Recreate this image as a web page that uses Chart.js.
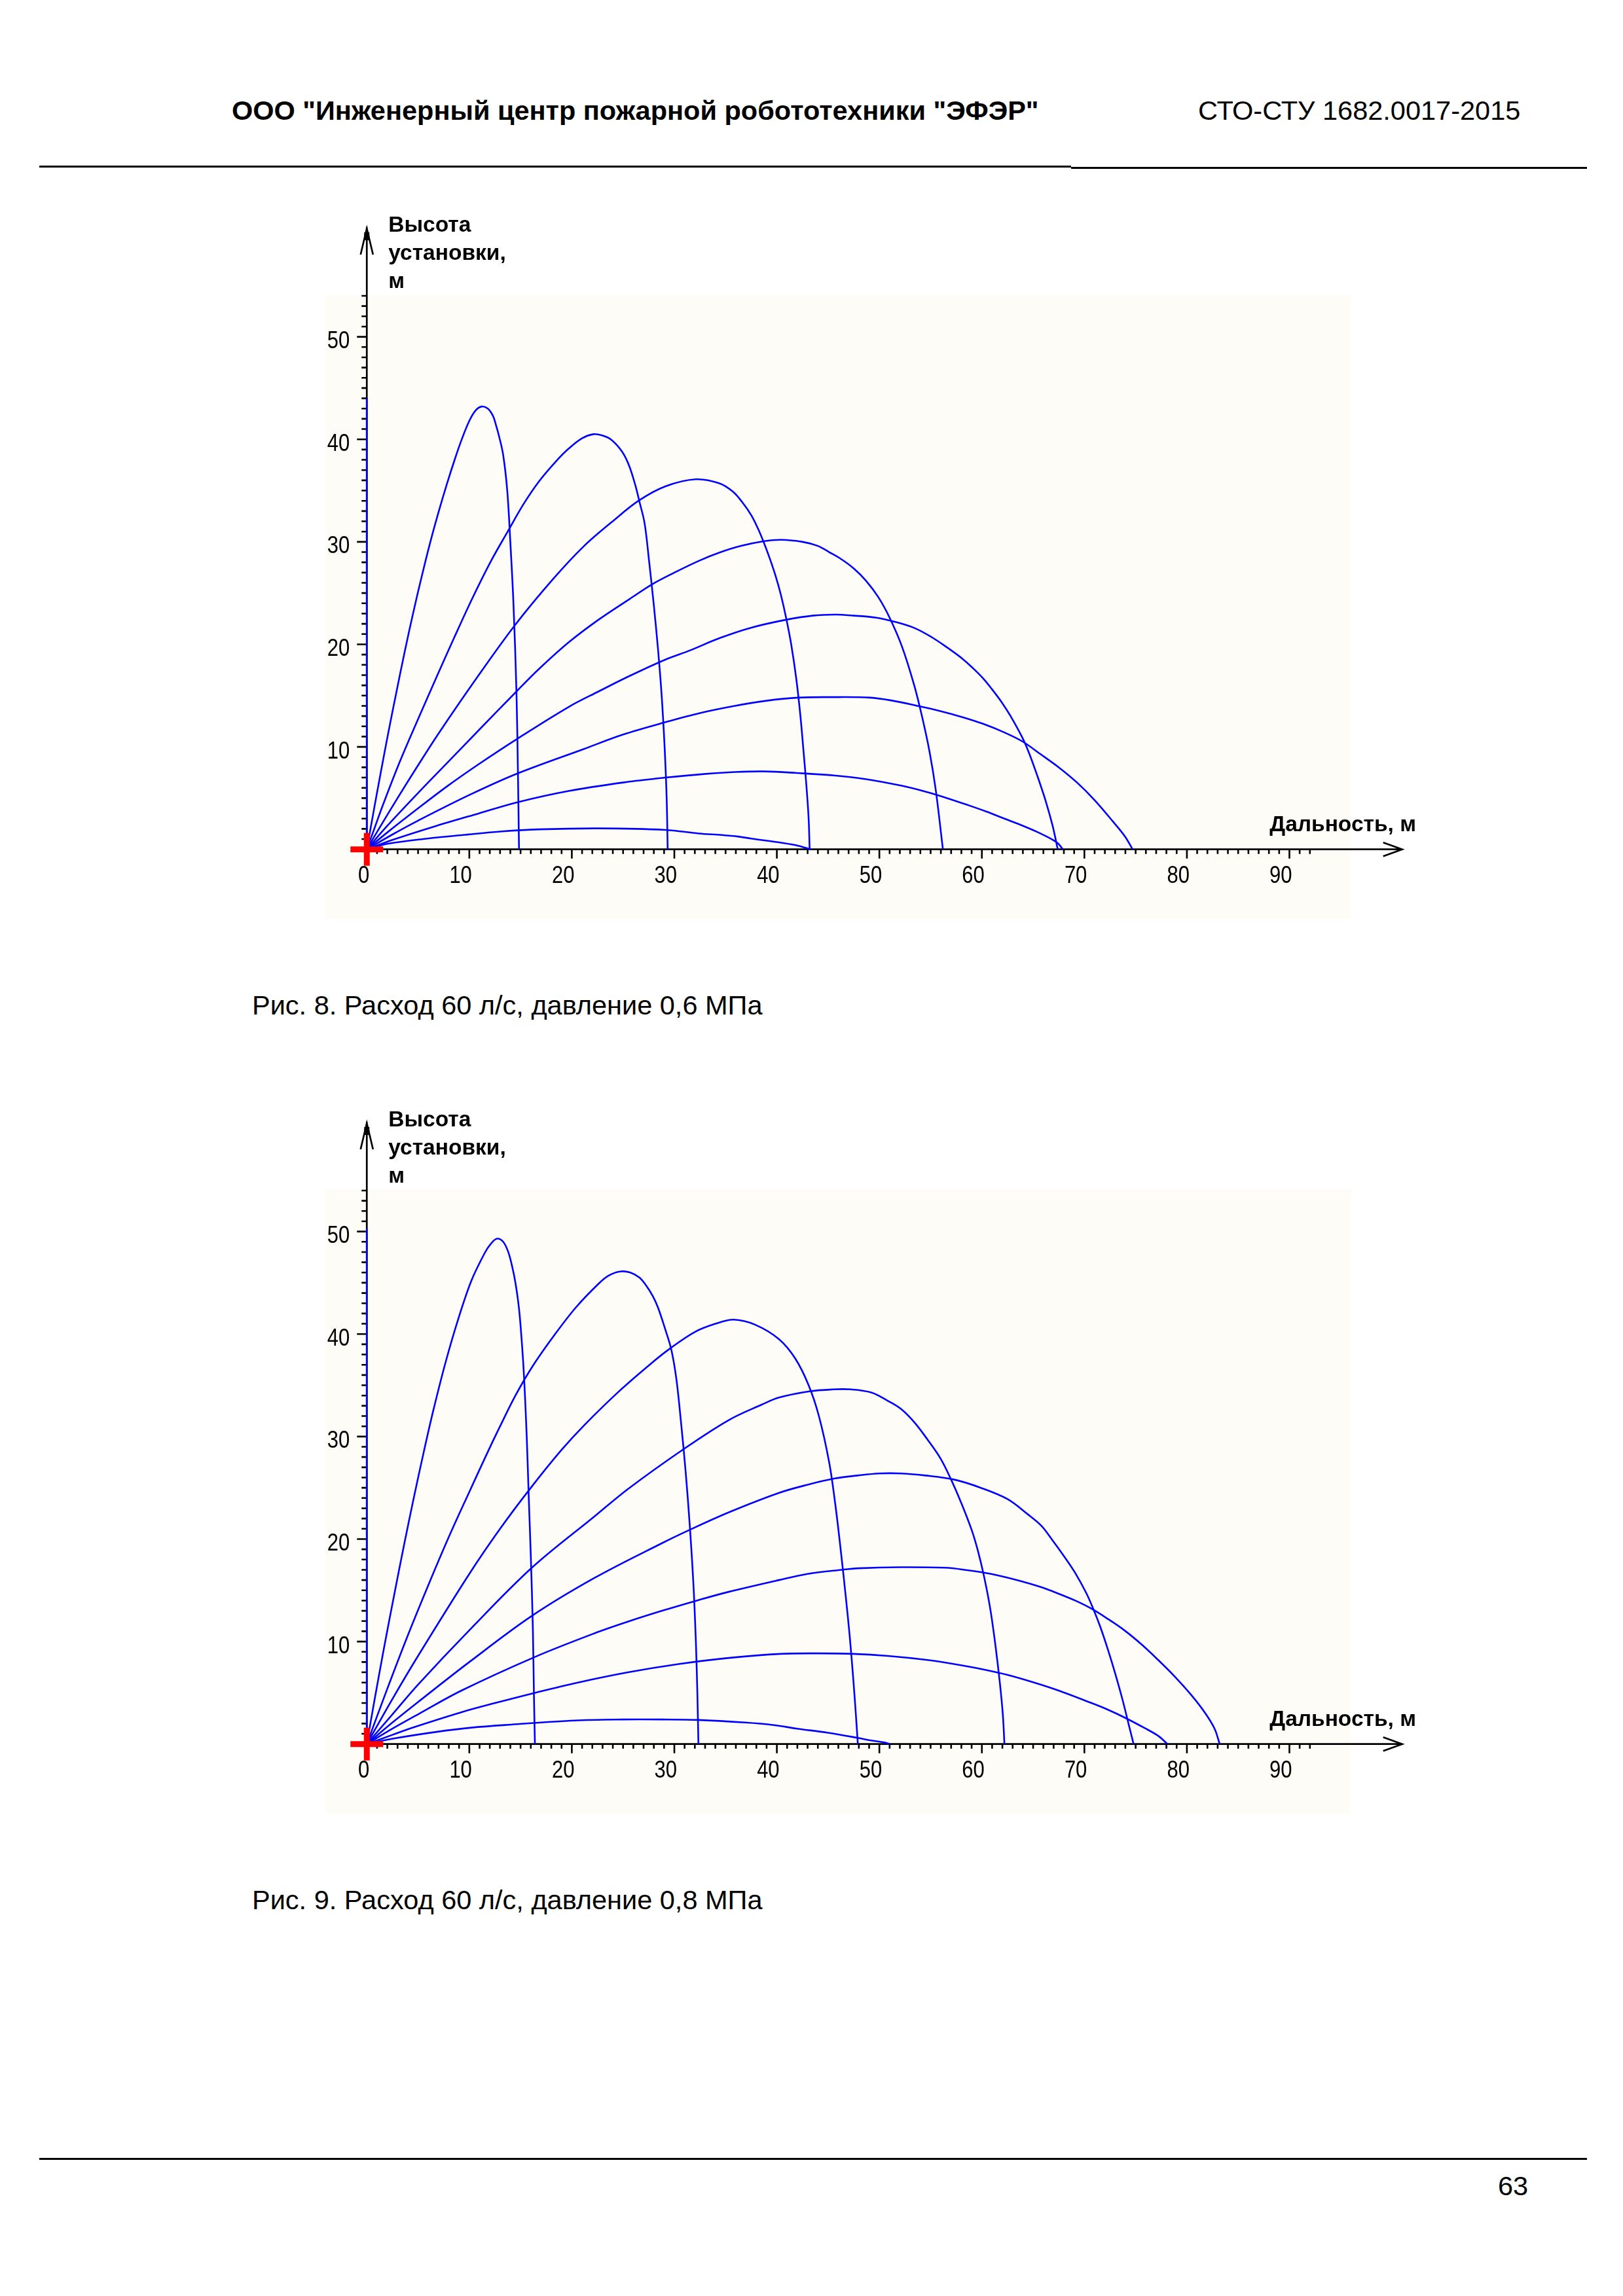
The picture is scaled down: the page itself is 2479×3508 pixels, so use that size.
<!DOCTYPE html>
<html lang="ru">
<head>
<meta charset="utf-8">
<title>Рис. 8, Рис. 9</title>
<script src="https://cdn.jsdelivr.net/npm/chart.js@4.4.1/dist/chart.umd.min.js"></script>
<style>
  html, body { margin: 0; padding: 0; background: #fff; }
  body { position: relative; width: 2479px; height: 3508px; overflow: hidden;
         font-family: "Liberation Sans", Arial, sans-serif; color: #000; }
  .t { position: absolute; white-space: nowrap; font-size: 41.5px; line-height: 41.5px; }
  .rule { position: absolute; background: #000; }
  canvas { position: absolute; }
</style>
</head>
<body>
<div class="t" style="left:354px; top:148px; font-weight:bold;">ООО "Инженерный центр пожарной робототехники "ЭФЭР"</div>
<div class="t" style="left:1830px; top:148px;">СТО-СТУ 1682.0017-2015</div>
<div class="rule" style="left:60px; top:253px; width:1576px; height:3px;"></div>
<div class="rule" style="left:1636px; top:255px; width:788px; height:3px;"></div>

<canvas id="fig8" width="1785" height="1112" style="left:435px; top:311px; width:1785px; height:1112px;"></canvas>
<div class="t" style="left:385px; top:1515px;">Рис. 8. Расход 60 л/с, давление 0,6 МПа</div>

<canvas id="fig9" width="1785" height="1112" style="left:435px; top:1678px; width:1785px; height:1112px;"></canvas>
<div class="t" style="left:385px; top:2882px;">Рис. 9. Расход 60 л/с, давление 0,8 МПа</div>

<div class="rule" style="left:60px; top:3297px; width:2364px; height:3px;"></div>
<div class="t" style="left:2288px; top:3319px;">63</div>

<script>
// axes
const xTickValues = [0, 10, 20, 30, 40, 50, 60, 70, 80, 90];
const xTickLabels = ['0', '10', '20', '30', '40', '50', '60', '70', '80', '90'];
const yTickValues = [10, 20, 30, 40, 50];
const yTickLabels = ['10', '20', '30', '40', '50'];
const xMinorLast = 92;   // small ticks every 1 m
const yMinorLast = 54;
const xTitle = 'Дальность, м';
const yTitle = ['Высота', 'установки,', 'м'];

// jet angles, one trajectory each
const angles = [90, 80, 70, 60, 50, 40, 30, 20, 10];

// Рис. 8 - 0,6 MPa  ([range, height] in m)
const fig8_a90 = [[0, 0], [0, 44.0]];
const fig8_a80 = [[0, 0], [0.7, 3.9], [1.4, 7.7], [2.1, 11.4], [2.8, 14.9], [3.7, 19.3], [4.6, 23.4], [5.4, 26.8],
  [6.2, 30.0], [7.0, 32.9], [7.8, 35.6], [8.6, 38.1], [9.3, 40.1], [10.0, 41.8], [10.6, 42.8], [11.2, 43.2],
  [11.8, 43.0], [12.3, 42.3], [12.6, 41.4], [12.9, 40.3], [13.3, 38.5], [13.7, 35.0], [14.0, 30.0],
  [14.3, 24.1], [14.6, 15.3], [14.75, 7.0], [14.85, 0]];
const fig8_a70 = [[0, 0], [0.8, 2.2], [1.6, 4.4], [3.2, 8.5], [5.0, 12.7], [6.8, 16.8], [8.5, 20.6], [10.3, 24.5],
  [12.1, 28.1], [13.8, 31.1], [15.3, 33.7], [16.8, 35.9], [18.5, 37.9], [19.7, 39.1], [21.0, 40.1], [22.1, 40.5],
  [22.9, 40.4], [23.8, 40.0], [24.9, 38.8], [25.6, 37.4], [26.2, 35.5], [26.6, 33.9], [27.1, 31.8], [27.55, 28.0],
  [28.0, 23.8], [28.4, 19.6], [28.75, 15.2], [29.05, 10.0], [29.25, 5.0], [29.35, 0]];
const fig8_a60 = [[0, 0], [1.0, 1.7], [3.0, 5.0], [5.0, 8.2], [7.0, 11.3], [10.5, 16.4], [14.4, 21.8], [18.2, 26.4],
  [21.2, 29.6], [24.1, 32.1], [26.5, 34.0], [29.1, 35.4], [32.1, 36.1], [34.4, 35.7], [35.7, 34.9], [36.6, 33.9],
  [37.5, 32.6], [38.2, 31.2], [38.7, 30.0], [39.3, 28.4], [39.9, 26.6], [40.4, 24.8], [40.9, 22.6], [41.4, 20.0],
  [41.9, 16.6], [42.3, 13.0], [42.6, 9.6], [42.9, 6.0], [43.1, 3.0], [43.2, 0]];
const fig8_a50 = [[0, 0], [2.0, 2.3], [5.0, 5.5], [7.9, 8.5], [10.9, 11.6], [14.6, 15.4], [16.8, 17.6], [19.7, 20.2],
  [22.6, 22.4], [25.6, 24.4], [27.9, 25.9], [30.0, 27.0], [32.4, 28.15], [34.4, 28.95], [36.5, 29.6], [38.7, 30.05],
  [40.4, 30.2], [42.5, 30.0], [44.0, 29.6], [45.1, 29.0], [46.3, 28.3], [47.5, 27.4], [48.7, 26.2], [49.9, 24.6],
  [51.0, 22.6], [52.2, 19.8], [53.4, 16.0], [54.2, 12.8], [54.9, 9.5], [55.5, 5.8], [56.2, 0]];
const fig8_a40 = [[0, 0], [2.0, 1.65], [5.0, 4.0], [7.9, 6.2], [10.9, 8.3], [14.7, 10.8], [19.7, 13.9], [22.6, 15.4],
  [25.6, 16.9], [29.1, 18.5], [31.5, 19.4], [34.4, 20.6], [37.4, 21.6], [40.9, 22.4], [43.5, 22.8], [45.7, 22.9],
  [47.5, 22.8], [49.7, 22.6], [51.5, 22.2], [53.4, 21.6], [55.1, 20.7], [56.6, 19.7], [58.1, 18.6], [59.1, 17.7],
  [60.1, 16.7], [61.0, 15.6], [61.9, 14.4], [62.8, 13.0], [64.0, 10.8], [64.6, 9.4], [65.4, 7.2], [66.2, 4.8],
  [66.9, 2.3], [67.4, 0]];
const fig8_a30 = [[0, 0], [2.5, 1.45], [5.0, 2.8], [10.0, 5.3], [14.7, 7.4], [21.2, 9.8], [25.0, 11.2], [29.1, 12.4],
  [32.5, 13.3], [35.9, 14.0], [39.0, 14.5], [42.1, 14.8], [45.2, 14.85], [49.1, 14.8], [51.3, 14.5], [53.7, 14.0],
  [55.7, 13.55], [58.1, 12.9], [60.1, 12.25], [62.2, 11.4], [64.0, 10.5], [65.7, 9.3], [67.5, 8.0], [69.3, 6.5],
  [71.0, 4.8], [72.8, 2.7], [74.0, 1.2], [74.7, 0]];
const fig8_a20 = [[0, 0], [2.6, 0.95], [6.5, 2.2], [10.9, 3.5], [14.7, 4.6], [19.7, 5.7], [25.6, 6.6], [29.1, 7.0],
  [32.9, 7.35], [36.0, 7.55], [38.8, 7.6], [41.9, 7.45], [45.7, 7.2], [48.7, 6.85], [52.2, 6.2], [54.6, 5.6],
  [56.6, 5.0], [58.7, 4.3], [60.4, 3.7], [62.2, 3.0], [64.0, 2.3], [65.4, 1.7], [66.6, 1.1], [67.4, 0.6], [67.9, 0]];
const fig8_a10 = [[0, 0], [2.1, 0.55], [5.9, 1.05], [9.4, 1.4], [13.2, 1.75], [16.8, 1.95], [22.6, 2.05], [29.1, 1.9],
  [32.4, 1.55], [34.6, 1.4], [36.2, 1.25], [37.5, 1.05], [40.4, 0.65], [41.9, 0.4], [43.3, 0]];

// Рис. 9 - 0,8 MPa
const fig9_a90 = [[0, 0], [0, 50.3]];
const fig9_a80 = [[0, 0], [0.7, 4.0], [1.7, 9.5], [2.7, 14.7], [3.65, 19.5], [4.6, 24.1], [5.6, 28.7], [6.5, 32.6],
  [7.7, 37.3], [8.9, 41.4], [10.2, 45.2], [11.5, 47.9], [12.1, 48.8], [12.7, 49.3], [13.3, 49.0], [13.8, 48.0],
  [14.2, 46.5], [14.5, 45.0], [14.8, 42.9], [15.0, 40.8], [15.3, 36.5], [15.6, 30.0], [15.8, 24.0], [16.0, 18.3],
  [16.2, 11.2], [16.3, 5.0], [16.4, 0]];
const fig9_a70 = [[0, 0], [2.0, 5.4], [4.0, 10.6], [6.0, 15.5], [8.0, 20.2], [10.0, 24.6], [11.8, 28.5], [13.0, 31.0],
  [14.5, 34.0], [16.2, 36.9], [18.3, 39.9], [20.4, 42.6], [22.6, 44.9], [23.6, 45.7], [24.7, 46.1], [25.7, 46.0],
  [26.6, 45.5], [27.2, 44.8], [27.9, 43.7], [28.4, 42.6], [29.1, 40.5], [29.7, 38.5], [30.2, 35.6], [30.65, 31.4],
  [31.1, 26.6], [31.5, 21.4], [31.85, 15.8], [32.1, 10.0], [32.25, 4.8], [32.35, 0]];
const fig9_a60 = [[0, 0], [2.5, 4.4], [5.0, 8.6], [10.0, 16.6], [13.0, 21.0], [16.0, 25.0], [19.0, 28.7], [21.3, 31.2],
  [24.7, 34.5], [27.7, 37.1], [29.6, 38.6], [32.0, 40.2], [34.0, 41.0], [35.8, 41.4], [37.9, 40.9], [40.2, 39.5],
  [41.8, 37.6], [43.1, 35.0], [44.1, 32.0], [45.1, 27.5], [45.7, 23.4], [46.2, 19.2], [46.7, 14.6], [47.1, 10.6],
  [47.45, 6.4], [47.7, 3.0], [47.9, 0]];
const fig9_a50 = [[0, 0], [2.5, 2.9], [5.0, 5.8], [10.0, 11.1], [16.1, 17.2], [22.2, 22.2], [25.5, 24.9], [30.8, 28.7],
  [35.3, 31.6], [38.5, 33.1], [40.2, 33.8], [43.1, 34.4], [45.5, 34.6], [47.2, 34.6], [49.2, 34.3], [50.8, 33.5],
  [52.1, 32.7], [53.4, 31.4], [54.7, 29.7], [56.0, 27.8], [57.0, 25.8], [58.0, 23.5], [59.0, 20.9], [59.6, 18.9],
  [60.2, 16.4], [60.8, 13.3], [61.3, 9.8], [61.75, 6.0], [62.05, 2.8], [62.2, 0]];
const fig9_a40 = [[0, 0], [2.5, 2.1], [5.0, 4.1], [10.0, 8.0], [16.1, 12.5], [22.2, 16.2], [28.8, 19.6], [31.5, 20.9],
  [35.3, 22.6], [40.2, 24.5], [43.0, 25.3], [45.6, 25.9], [47.9, 26.2], [50.0, 26.4], [52.1, 26.4], [54.5, 26.2],
  [57.3, 25.8], [59.9, 25.0], [62.5, 23.9], [64.5, 22.4], [65.8, 21.3], [66.8, 20.0], [68.1, 18.2], [69.1, 16.7],
  [70.2, 14.7], [70.9, 13.1], [71.6, 11.3], [72.3, 9.2], [73.0, 6.9], [73.7, 4.4], [74.3, 2.0], [74.8, 0]];
const fig9_a30 = [[0, 0], [2.5, 1.5], [5.0, 2.9], [9.2, 5.2], [16.4, 8.5], [22.2, 10.8], [25.5, 11.95], [28.8, 13.0],
  [32.2, 14.0], [35.3, 14.85], [40.2, 16.0], [43.0, 16.6], [46.3, 17.0], [48.0, 17.15], [52.0, 17.25], [56.4, 17.2],
  [58.3, 17.0], [60.9, 16.6], [63.8, 15.9], [65.8, 15.3], [67.4, 14.7], [69.1, 14.0], [70.7, 13.2], [72.3, 12.2],
  [73.9, 11.1], [75.6, 9.7], [77.2, 8.2], [78.8, 6.6], [80.5, 4.7], [81.8, 3.0], [82.7, 1.5], [83.2, 0]];
const fig9_a20 = [[0, 0], [2.5, 0.9], [4.3, 1.55], [9.2, 3.1], [12.5, 4.0], [16.4, 5.0], [20.6, 6.0], [25.5, 7.0],
  [30.4, 7.8], [35.3, 8.4], [40.4, 8.8], [44.0, 8.85], [47.4, 8.8], [50.8, 8.6], [54.7, 8.2], [57.3, 7.8],
  [60.3, 7.25], [62.5, 6.75], [65.1, 6.0], [67.4, 5.25], [70.7, 4.0], [72.3, 3.35], [73.9, 2.6], [75.9, 1.55],
  [77.2, 0.8], [78.1, 0]];
const fig9_a10 = [[0, 0], [2.7, 0.55], [6.9, 1.2], [10.2, 1.6], [14.1, 1.9], [20.3, 2.3], [25.0, 2.4], [28.8, 2.4],
  [32.3, 2.35], [36.9, 2.1], [39.7, 1.85], [42.0, 1.5], [45.0, 1.1], [47.9, 0.6], [49.2, 0.35], [50.5, 0.15], [51.0, 0]];

const fig8 = [fig8_a90, fig8_a80, fig8_a70, fig8_a60, fig8_a50, fig8_a40, fig8_a30, fig8_a20, fig8_a10];
const fig9 = [fig9_a90, fig9_a80, fig9_a70, fig9_a60, fig9_a50, fig9_a40, fig9_a30, fig9_a20, fig9_a10];

const BLUE = '#0000ff';

function narrowText(ctx, text, x, y) {
  // the scanned labels use a narrow bitmap font
  ctx.save();
  ctx.translate(x, y);
  ctx.scale(0.86, 1);
  ctx.textAlign = 'right';
  ctx.fillText(text, 0, 0);
  ctx.restore();
}

const axesPlugin = {
  id: 'pageAxes',
  beforeDraw(chart) {
    const { ctx } = chart;
    const { x, y } = chart.scales;
    const l = x.getPixelForValue(-4.0), r = x.getPixelForValue(96.0);
    const t = y.getPixelForValue(54.1), b = y.getPixelForValue(-6.8);
    ctx.save();
    ctx.fillStyle = '#fdfcf7';
    ctx.fillRect(l, t, r - l, b - t);
    ctx.restore();
  },
  beforeDatasetsDraw(chart) {
    const { ctx } = chart;
    const { x, y } = chart.scales;
    const x0 = x.getPixelForValue(0), y0 = y.getPixelForValue(0);
    const xTip = x.getPixelForValue(101), yTip = y.getPixelForValue(60.7);
    ctx.save();
    ctx.strokeStyle = '#000';
    ctx.fillStyle = '#000';
    ctx.lineWidth = 2.7;

    // axis lines + open arrows
    ctx.beginPath();
    ctx.moveTo(x0, y0); ctx.lineTo(xTip, y0);
    ctx.moveTo(x0, y0); ctx.lineTo(x0, yTip);
    ctx.moveTo(xTip - 29, y0 - 10.5); ctx.lineTo(xTip, y0); ctx.lineTo(xTip - 29, y0 + 10.5);
    ctx.moveTo(x0 - 9.5, yTip + 42); ctx.lineTo(x0, yTip + 2); ctx.lineTo(x0 + 9.5, yTip + 42);
    ctx.stroke();
    ctx.fillRect(x0 - 4, yTip + 8, 8, 12);

    // ticks
    ctx.lineWidth = 2.6;
    ctx.beginPath();
    for (let i = 1; i <= xMinorLast; i++) {
      const px = x.getPixelForValue(i);
      const len = xTickValues.includes(i) ? 14 : 7;
      ctx.moveTo(px, y0); ctx.lineTo(px, y0 + len);
    }
    for (let j = 1; j <= yMinorLast; j++) {
      const py = y.getPixelForValue(j);
      const len = yTickValues.includes(j) ? 15 : 8;
      ctx.moveTo(x0, py); ctx.lineTo(x0 - len, py);
    }
    ctx.stroke();

    // tick labels
    ctx.font = '36px "Liberation Sans"';
    ctx.textBaseline = 'alphabetic';
    xTickValues.forEach((v, k) => narrowText(ctx, xTickLabels[k], x.getPixelForValue(v) + 4, y0 + 51));
    yTickValues.forEach((v, k) => narrowText(ctx, yTickLabels[k], x0 - 26, y.getPixelForValue(v) + 17.5));

    // axis titles
    ctx.font = 'bold 33.5px "Liberation Sans"';
    ctx.textAlign = 'left';
    yTitle.forEach((s, k) => ctx.fillText(s, x0 + 33, y0 - 944 + k * 43));
    ctx.fillText(xTitle, x0 + 1379, y0 - 28);
    ctx.restore();
  }
};

function makeChart(id, curves) {
  const datasets = [{
    label: 'ствол',
    data: [{ x: 0, y: 0 }],
    showLine: false,
    pointStyle: 'cross',
    pointRadius: 25,
    pointBorderColor: '#ff0000',
    pointBorderWidth: 9,
    order: -1
  }];
  curves.forEach((pts, i) => {
    datasets.push({
      label: angles[i] + '°',
      data: pts.map(p => ({ x: p[0], y: p[1] })),
      showLine: true,
      borderColor: BLUE,
      borderWidth: 2.6,
      pointRadius: 0,
      tension: 0.35,
      fill: false
    });
  });

  return new Chart(document.getElementById(id), {
    type: 'scatter',
    data: { datasets },
    options: {
      responsive: false,
      animation: false,
      devicePixelRatio: 1,
      events: [],
      layout: { padding: 0, autoPadding: false },
      plugins: { legend: { display: false }, tooltip: { enabled: false } },
      scales: {
        x: { type: 'linear', min: -8, max: 106, display: false },
        y: { type: 'linear', min: -8, max: 63, display: false }
      }
    },
    plugins: [axesPlugin]
  });
}

makeChart('fig8', fig8);
makeChart('fig9', fig9);
</script>
</body>
</html>
